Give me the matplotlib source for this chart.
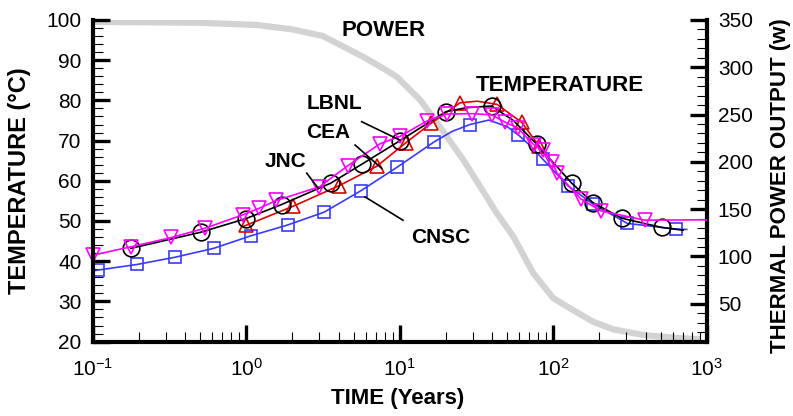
import matplotlib
matplotlib.use("Agg")
import matplotlib.pyplot as plt
from matplotlib.ticker import MultipleLocator, LogLocator, NullFormatter, FixedLocator, FixedFormatter
import numpy as np

plt.rcParams['font.family'] = ['Liberation Sans', 'DejaVu Sans']
plt.rcParams['mathtext.fontset'] = 'custom'
plt.rcParams['mathtext.rm'] = 'Liberation Sans'
plt.rcParams['mathtext.it'] = 'Liberation Sans'

# thermal power (w)
power_t = [0.1, 0.5, 1.17, 2.0, 3.16, 5.79, 7.48, 9.56, 13.6, 18.3, 26, 33.4, 42.8,
           55, 74, 100, 128.6, 182, 246, 386, 606, 904]
power_P = [348, 347, 344.7, 340, 333, 311, 300.6, 290, 265.4, 237, 202, 174, 146,
           121, 82.5, 56, 45.2, 31, 23, 17, 14.2, 12.5]

# CNSC
cnsc_line_t = [0.1, 0.195, 0.345, 0.614, 1.07, 1.86, 3.22, 5.57, 9.64, 16.8, 22, 28.7, 38, 50,
               59.3, 72, 85.9, 125, 182, 304, 631, 740]
cnsc_line_T = [37.6, 39.2, 41.0, 43.2, 46.3, 49.0, 52.2, 57.5, 63.4, 69.7, 72.3, 74.0, 75.1, 73.5,
               71.4, 68.5, 65.3, 58.7, 54.2, 49.4, 48.0, 47.9]
cnsc_mark_t = [0.108, 0.195, 0.345, 0.614, 1.07, 1.86, 3.22, 5.57, 9.64, 16.8, 28.7, 59.3, 85.9,
               125, 182, 304, 631]
cnsc_mark_T = [37.8, 39.2, 41.0, 43.2, 46.3, 49.0, 52.2, 57.5, 63.4, 69.7, 74.0, 71.4, 65.3,
               58.7, 54.2, 49.4, 48.0]

# CEA
cea_line_t = [0.95, 2.03, 4.04, 7.08, 11.0, 16.0, 24.7, 32, 43.1, 62.4, 80.9, 88]
cea_line_T = [48.6, 53.7, 58.8, 63.6, 69.5, 74.3, 79.4, 79.8, 79.0, 74.5, 68.7, 66.5]
cea_mark_t = [1.0, 2.03, 4.04, 7.08, 11.0, 16.0, 24.7, 43.1, 62.4, 80.9]
cea_mark_T = [48.9, 53.7, 58.8, 63.6, 69.5, 74.3, 79.4, 79.0, 74.5, 68.7]

# LBNL
lbnl_line_t = [0.177, 0.505, 0.997, 1.70, 3.55, 5.65, 9.97, 20.0, 27.5, 39.7, 55, 78.1, 132, 181,
               279, 509, 703]
lbnl_line_T = [43.2, 47.2, 50.6, 54.1, 59.4, 64.1, 69.9, 77.2, 78.2, 78.6, 75.0, 69.1, 59.4, 54.6,
               50.7, 48.4, 47.7]
lbnl_mark_t = [0.177, 0.505, 0.997, 1.70, 3.55, 5.65, 9.97, 20.0, 39.7, 78.1, 132, 181, 279, 509]
lbnl_mark_T = [43.2, 47.2, 50.6, 54.1, 59.4, 64.1, 69.9, 77.2, 78.6, 69.1, 59.4, 54.6, 50.7, 48.4]

# JNC
jnc_line_t = [0.1, 0.178, 0.326, 0.539, 0.946, 1.22, 1.57, 3.0, 4.57, 7.44, 10.1, 15.1, 20.3,
              29.6, 39.7, 48.5, 59, 75, 86, 98, 106, 151, 205, 396, 1000]
jnc_line_T = [41.5, 43.6, 45.9, 48.2, 51.5, 53.2, 55.1, 58.5, 63.7, 69.2, 71.1, 74.9, 76.6,
              76.7, 76.4, 74.6, 73.1, 68.9, 67.7, 64.7, 61.9, 55.5, 52.5, 50.2, 50.3]
jnc_mark_t = jnc_line_t[:-1]
jnc_mark_T = jnc_line_T[:-1]

fig = plt.figure(figsize=(7.93, 4.16), dpi=100)
ax = fig.add_axes([0.1169, 0.1788, 0.7743, 0.7732])
ax2 = ax.twinx()
ax.set_zorder(ax2.get_zorder() + 1)
ax.patch.set_visible(False)

ax2.plot(power_t, power_P, color='#d3d3d3', lw=4.5, solid_capstyle='butt')

ax.plot(cnsc_line_t, cnsc_line_T, color='#3a3aff', lw=1.2)
ax.plot(cnsc_mark_t, cnsc_mark_T, 's', ms=9, mfc='none', mec='#3a3aff', mew=1.2)
ax.plot(cea_line_t, cea_line_T, color='#dd0000', lw=1.2)
ax.plot(cea_mark_t, cea_mark_T, '^', ms=10, mfc='none', mec='#dd0000', mew=1.2)
ax.plot(lbnl_line_t, lbnl_line_T, color='black', lw=1.2)
ax.plot(lbnl_mark_t, lbnl_mark_T, 'o', ms=12, mfc='none', mec='black', mew=1.2)
ax.plot(jnc_line_t, jnc_line_T, color='#ff00ff', lw=1.2)
ax.plot(jnc_mark_t, jnc_mark_T, 'v', ms=10, mfc='none', mec='#ff00ff', mew=1.2, clip_on=False)

# labels with leader lines
lab = dict(fontsize=15, fontweight='bold', ha='center', va='center')
ax.text(7.9, 97.3, 'POWER', fontsize=16, fontweight='bold', ha='center', va='center')
ax.text(110.7, 83.8, 'TEMPERATURE', fontsize=16, fontweight='bold', ha='center', va='center')
ax.text(3.73, 79.1, 'LBNL', **lab)
ax.text(3.41, 71.9, 'CEA', **lab)
ax.text(1.79, 64.7, 'JNC', **lab)
ax.text(18.6, 46.0, 'CNSC', **lab)
ax.plot([5.65, 10.05], [74.7, 70.1], color='black', lw=1.2)
ax.plot([5.12, 7.63], [68.9, 63.1], color='black', lw=1.2)
ax.plot([2.48, 2.95], [61.9, 58.1], color='black', lw=1.2)
ax.plot([5.94, 10.5], [56.0, 50.2], color='black', lw=1.2)

ax.set_xscale('log')
ax.set_xlim(0.1, 1000)
ax.set_ylim(20, 100)
ax2.set_ylim(10, 350)

ax.xaxis.set_major_locator(FixedLocator([0.1, 1, 10, 100, 1000]))
ax.xaxis.set_major_formatter(FixedFormatter(['$10^{-1}$', '$10^0$', '$10^1$', '$10^2$', '$10^3$']))
ax.xaxis.set_minor_locator(LogLocator(base=10, subs=np.arange(2, 10)))
ax.xaxis.set_minor_formatter(NullFormatter())
ax.yaxis.set_major_locator(MultipleLocator(10))
ax.yaxis.set_minor_locator(MultipleLocator(2))
ax2.yaxis.set_major_locator(FixedLocator([50, 100, 150, 200, 250, 300, 350]))
ax2.yaxis.set_minor_locator(MultipleLocator(10))

for a in (ax, ax2):
    a.spines['top'].set_visible(False)
    for s in ('left', 'right', 'bottom'):
        a.spines[s].set_linewidth(3)
ax.spines['right'].set_visible(False)
ax2.spines['left'].set_visible(False)
ax2.spines['bottom'].set_visible(False)

ax.tick_params(axis='both', which='major', direction='in', length=12, width=2.4, labelsize=15, pad=8)
ax.tick_params(axis='both', which='minor', direction='in', length=7, width=0.8)
ax.tick_params(axis='y', right=False)
ax.tick_params(axis='x', top=False, pad=12)
ax2.tick_params(axis='y', which='major', direction='in', length=12, width=2.4, labelsize=15, pad=8)
ax2.tick_params(axis='y', which='minor', direction='in', length=7, width=0.8)

ax.set_xlabel('TIME (Years)', fontsize=16, fontweight='bold')
ax.set_ylabel('TEMPERATURE (\u00b0C)', fontsize=17, fontweight='bold')
ax2.set_ylabel('THERMAL POWER OUTPUT (w)', fontsize=16, fontweight='bold')
ax.xaxis.set_label_coords(0.497, -0.144)
ax.yaxis.set_label_coords(-0.100, 0.5)
ax2.yaxis.set_label_coords(1.103, 0.485)

fig.savefig('out.png', dpi=100)
